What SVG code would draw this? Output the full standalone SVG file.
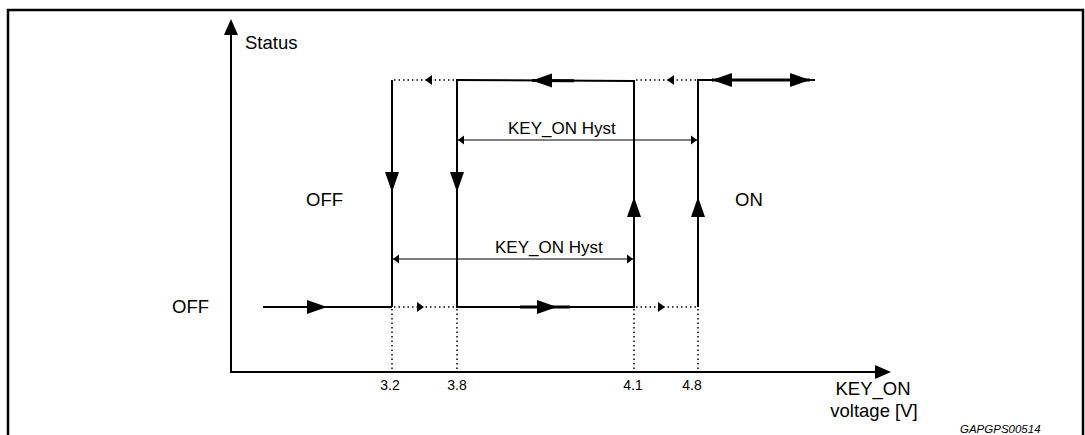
<svg xmlns="http://www.w3.org/2000/svg" xmlns:xlink="http://www.w3.org/1999/xlink" width="1085" height="435" viewBox="0 0 1085 435">
<style>
.lbl{font-family:"Liberation Sans",Arial,sans-serif;font-size:18.5px;fill:#000}
.num{font-family:"Liberation Sans",Arial,sans-serif;font-size:14px;fill:#000;text-anchor:middle}
.hy{font-family:"Liberation Sans",Arial,sans-serif;font-size:17px;fill:#000}
.id{font-family:"Liberation Sans",Arial,sans-serif;font-size:11.5px;font-style:italic;fill:#000}
.st{stroke:#000;stroke-width:2;fill:none}
.thin{stroke:#000;stroke-width:1.2;fill:none}
.dot{stroke:#000;stroke-width:1.5;fill:none;stroke-dasharray:1.5 3}
</style>
<defs>
<polygon id="big" points="-20,-7 0,0 -20,7" fill="#000"/>
<polygon id="sm" points="-7,-5 0,0 -7,5" fill="#000"/>
<polygon id="hs" points="-6,-4.5 0,0 -6,4.5" fill="#000"/>
</defs>
<rect id="frame" x="8" y="10" width="1075" height="445" fill="none" stroke="#000" stroke-width="2.5"/>
<g id="axes">
<line class="st" x1="231" y1="372" x2="231" y2="32"/>
<polygon points="231,19 224,35 238,35" fill="#000"/>
<line class="st" x1="230" y1="372" x2="878" y2="372"/>
<polygon points="891,372 875,365 875,379" fill="#000"/>
</g>
<g id="connectors">
<line class="st" x1="263" y1="307" x2="392" y2="307"/>
<use xlink:href="#big" transform="translate(327,307)"/>
<line class="st" x1="392" y1="80" x2="392" y2="307"/>
<use xlink:href="#big" transform="translate(392,192) rotate(90)"/>
<line class="dot" x1="394" y1="80" x2="457" y2="80"/>
<use xlink:href="#sm" transform="translate(425,80) rotate(180)"/>
<line class="st" x1="457" y1="80" x2="457" y2="307"/>
<use xlink:href="#big" transform="translate(457,192) rotate(90)"/>
<polyline class="st" points="456,80 634,81 634,307 456,307"/>
<line stroke="#000" stroke-width="3" x1="532" y1="80.5" x2="574" y2="80.8"/>
<use xlink:href="#big" transform="translate(532,80.5) rotate(180)"/>
<line stroke="#000" stroke-width="3" x1="520" y1="307" x2="570" y2="307"/>
<use xlink:href="#big" transform="translate(557,307)"/>
<use xlink:href="#big" transform="translate(634,197) rotate(-90)"/>
<line class="dot" x1="394" y1="307" x2="457" y2="307"/>
<use xlink:href="#sm" transform="translate(424,307)"/>
<line class="dot" x1="636" y1="307" x2="698" y2="307"/>
<use xlink:href="#sm" transform="translate(665,307)"/>
<line class="dot" x1="636" y1="80" x2="698" y2="80"/>
<use xlink:href="#sm" transform="translate(667,80) rotate(180)"/>
<polyline class="st" points="698,307 698,80 815,80"/>
<line stroke="#000" stroke-width="3" x1="712" y1="80" x2="810" y2="80"/>
<use xlink:href="#big" transform="translate(698,197) rotate(-90)"/>
<use xlink:href="#big" transform="translate(712,80) rotate(180)"/>
<use xlink:href="#big" transform="translate(810,80)"/>
<line class="thin" x1="458" y1="140" x2="697" y2="140"/>
<use xlink:href="#hs" transform="translate(458,140) rotate(180)"/>
<use xlink:href="#hs" transform="translate(697,140)"/>
<line class="thin" x1="393" y1="259" x2="633" y2="259"/>
<use xlink:href="#hs" transform="translate(393,259) rotate(180)"/>
<use xlink:href="#hs" transform="translate(633,259)"/>
<line class="dot" x1="392" y1="309" x2="392" y2="371"/>
<line class="dot" x1="457" y1="309" x2="457" y2="371"/>
<line class="dot" x1="634" y1="309" x2="634" y2="371"/>
<line class="dot" x1="698" y1="309" x2="698" y2="371"/>
</g>
<g id="labels">
<text class="lbl" x="245" y="49">Status</text>
<text class="lbl" x="172" y="313">OFF</text>
<text class="lbl" x="306" y="206">OFF</text>
<text class="lbl" x="735" y="206">ON</text>
<text class="hy" x="508" y="134">KEY_ON Hyst</text>
<text class="hy" x="495" y="253">KEY_ON Hyst</text>
<text class="num" x="390" y="390">3.2</text>
<text class="num" x="457" y="390">3.8</text>
<text class="num" x="633" y="390">4.1</text>
<text class="num" x="692" y="390">4.8</text>
<text class="lbl" x="873" y="395" text-anchor="middle">KEY_ON</text>
<text class="lbl" x="874" y="417" text-anchor="middle">voltage [V]</text>
<text class="id" x="960" y="433">GAPGPS00514</text>
</g>
</svg>
